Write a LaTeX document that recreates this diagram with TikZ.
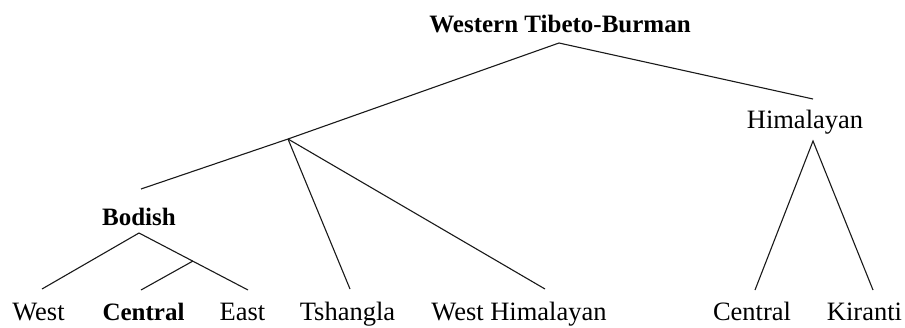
\documentclass[tikz,border=0pt]{standalone}
\usepackage{fontspec}
\setmainfont{Liberation Serif}
\begin{document}
\begin{tikzpicture}[x=1pt,y=-1pt,
  lbl/.style={anchor=base,inner sep=0pt,font=\fontsize{26.5}{30}\selectfont},
  blbl/.style={lbl,font=\fontsize{25}{30}\selectfont\bfseries},
  edge/.style={line width=1.1pt,black!90}]
\useasboundingbox (0,0) rectangle (905,327);
% nodes
\node[blbl] (wtb) at (560,32) {Western Tibeto-Burman};
\node[lbl] (him) at (805,128) {Himalayan};
\node[blbl] (bod) at (139,225) {Bodish};
\node[lbl] (west) at (38.5,320) {West};
\node[blbl] (bcen) at (143.5,320) {Central};
\node[lbl] (east) at (242.5,320) {East};
\node[lbl] (tsh) at (347.5,320) {Tshangla};
\node[lbl] (whim) at (519,320) {West Himalayan};
\node[lbl] (hcen) at (752,320) {Central};
\node[lbl] (kir) at (864.5,320) {Kiranti};
% connector points
\coordinate (wtbB) at (559,43);
\coordinate (himT) at (813,99);
\coordinate (himB) at (813,141);
\coordinate (bp) at (288,139);
\coordinate (bodT) at (141,189);
\coordinate (bodB) at (139,233);
\coordinate (sub) at (193,261);
\coordinate (westT) at (42,289);
\coordinate (bcenT) at (141,290);
\coordinate (eastT) at (248,290);
\coordinate (tshT) at (350,289);
\coordinate (whimT) at (545,289);
\coordinate (hcenT) at (755,290);
\coordinate (kirT) at (873,290);
% connectors
\draw[edge] (bodT) -- (bp) -- (wtbB) -- (himT);
\draw[edge] (bp) -- (tshT);
\draw[edge] (bp) -- (whimT);
\draw[edge] (westT) -- (bodB) -- (eastT);
\draw[edge] (sub) -- (bcenT);
\draw[edge] (hcenT) -- (himB) -- (kirT);
\end{tikzpicture}
\end{document}
